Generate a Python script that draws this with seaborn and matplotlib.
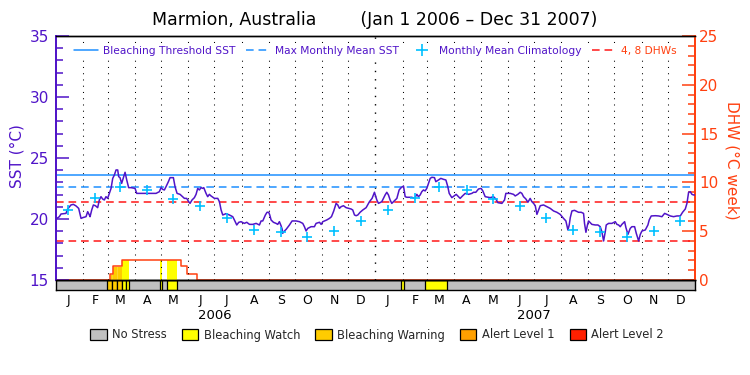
import numpy as np
import pandas as pd
import matplotlib
matplotlib.use("Agg")
import matplotlib.pyplot as plt
import matplotlib.transforms as mtransforms
from matplotlib.lines import Line2D
from matplotlib.patches import Patch
import seaborn as sns

# ---------------- data ----------------
title = "Marmion, Australia        (Jan 1 2006 \u2013 Dec 31 2007)"
start_date = "2006-01-01"
end_date = "2008-01-01"

# days since 2006-01-01 and SST (deg C)
sst_day = [0, 3.8, 5.7, 11.4, 13.3, 17.1, 19.8, 22.9, 25.9, 28.6, 30.5, 34.3, 36.2, 38.1, 38.9,
           40.8, 42.7, 45.0, 47.6, 49.5, 51.4, 53.3, 55.2, 57.1, 59.0, 61.0, 62.9, 64.8, 66.7,
           68.6, 70.5, 71.6, 73.1, 75.0, 77.3, 78.9, 80.8, 83.0, 85.7, 90.3, 92.2, 101.0, 114.3,
           118.1, 120.0, 121.9, 123.8, 125.7, 128.4, 130.3, 134.1, 136.0, 138.3, 141.7, 146.7,
           149.3, 151.6, 153.1, 155.4, 158.1, 160.0, 161.9, 163.8, 165.7, 167.6, 168.8, 171.4,
           173.3, 175.2, 177.1, 181.0, 184.8, 186.7, 188.6, 190.5, 194.3, 198.1, 201.9, 203.8,
           206.5, 208.8, 211.4, 215.2, 217.9, 221.0, 224.8, 228.6, 232.4, 234.3, 236.2, 239.2,
           241.1, 243.0, 244.2, 245.7, 248.4, 251.4, 253.3, 255.2, 257.1, 258.3, 259.0, 261.0,
           262.9, 266.7, 269.7, 274.3, 278.1, 281.9, 283.8, 285.7, 287.6, 291.4, 295.2, 297.1,
           301.0, 302.9, 304.8, 306.7, 309.3, 312.4, 314.7, 317.3, 320.0, 321.9, 323.8, 325.7,
           328.4, 331.4, 337.1, 339.0, 341.0, 342.9, 344.8, 347.4, 350.5, 354.3, 358.1, 361.1,
           363.8,
           366.5, 368.4, 372.2, 374.1, 376.0, 377.9, 379.8, 381.7, 383.6, 385.6, 387.5, 389.4,
           390.5, 392.0, 394.3, 397.0, 398.9, 400.8, 406.5, 409.6, 412.2, 414.1, 416.0, 417.9,
           419.8, 421.7, 423.6, 425.6, 427.5, 429.4, 432.4, 433.9, 437.0, 439.6, 442.7, 445.4,
           447.6, 449.2, 452.2, 454.9, 457.2, 459.8, 461.7, 464.4, 467.5, 471.3, 475.1, 477.0,
           479.6, 482.7, 485.7, 487.6, 490.3, 496.0, 499.8, 502.5, 504.8, 509.4, 512.4, 513.9,
           518.9, 522.7, 524.6, 527.6, 530.3, 532.2, 534.1, 536.8, 539.1, 540.6, 541.7, 543.6,
           545.6, 547.5, 549.4, 551.3, 553.2, 557.0, 560.8, 564.6, 568.4, 572.2, 576.0, 579.8,
           582.5, 584.8, 586.3, 587.5, 589.4, 592.4, 597.0, 600.0, 602.7, 603.8, 605.4, 607.3,
           608.4, 612.2, 616.0, 619.1, 621.7, 623.6, 625.6, 627.5, 628.6, 631.3, 635.1, 638.9,
           640.8, 642.7, 644.6, 646.5, 649.6, 651.1, 653.4, 656.0, 657.9, 661.0, 662.9, 665.6,
           667.5, 669.4, 673.2, 676.2, 677.7, 680.0, 684.6, 688.4, 692.2, 695.3, 697.9, 701.7,
           705.5, 709.4, 713.2, 715.8, 718.9, 720.8, 722.7, 724.6, 726.5, 728.4, 730.0]
sst_val = [20.0, 20.19, 20.41, 20.46, 20.82, 21.15, 21.2, 21.07, 20.87, 20.05, 20.11, 20.19, 20.6,
           20.33, 20.19, 20.74, 21.15, 21.09, 20.93, 21.56, 21.83, 21.64, 21.56, 21.83, 21.69,
           22.1, 22.51, 23.33, 23.61, 24.02, 24.02, 23.47, 23.39, 22.92, 23.47, 23.83, 23.2,
           22.57, 22.57, 22.51, 22.1, 22.1, 22.1, 22.24, 22.57, 22.43, 22.38, 22.65, 23.06, 23.39,
           23.39, 22.65, 22.1, 22.02, 21.69, 21.69, 21.42, 21.28, 21.56, 21.75, 22.02, 22.51,
           22.38, 22.57, 22.51, 22.57, 22.1, 21.83, 22.02, 21.89, 21.69, 21.69, 21.42, 20.74,
           20.33, 20.44, 20.33, 20.19, 19.92, 19.51, 19.73, 19.78, 19.64, 19.73, 19.56, 19.56,
           19.64, 19.51, 19.84, 19.84, 20.33, 20.55, 20.55, 20.33, 19.92, 19.73, 19.64, 19.56,
           19.78, 19.45, 19.18, 18.83, 19.02, 19.15, 19.51, 19.84, 19.84, 19.78, 19.64, 19.37,
           19.02, 19.23, 19.37, 19.37, 19.64, 19.73, 19.56, 19.78, 19.84, 19.92, 20.05, 20.19,
           20.66, 21.28, 21.15, 20.87, 21.01, 21.09, 20.93, 20.82, 20.74, 20.33, 20.27, 20.33,
           20.55, 20.74, 20.93, 21.42, 21.69, 22.19,
           21.56, 21.28, 21.42, 21.69, 21.97, 22.19, 21.97, 21.56, 21.28, 21.42, 21.56, 21.69,
           21.97, 22.38, 22.57, 22.7, 21.83, 21.78, 21.78, 21.69, 22.02, 21.83, 21.97, 22.24,
           22.38, 22.3, 22.51, 22.92, 23.33, 23.42, 23.39, 23.06, 23.2, 23.33, 23.25, 23.2,
           22.65, 22.1, 21.75, 21.89, 22.02, 21.83, 21.69, 21.89, 22.1, 22.02, 22.1, 22.19,
           22.19, 22.46, 22.51, 22.3, 21.83, 21.75, 21.83, 21.64, 21.34, 21.28, 21.56, 22.1,
           22.1, 22.02, 21.89, 22.02, 22.19, 22.1, 21.83, 21.64, 21.37, 21.56, 21.69, 21.42,
           21.28, 21.09, 20.38, 20.74, 21.09, 21.15, 21.01, 20.87, 20.66, 20.55, 20.38, 20.05,
           19.84, 19.1, 19.51, 20.11, 20.66, 20.71, 20.55, 20.55, 20.46, 19.64, 18.91, 19.56,
           19.84, 19.56, 19.51, 19.51, 19.37, 18.96, 18.2, 18.96, 19.51, 19.64, 19.64, 19.78,
           19.56, 19.51, 19.37, 19.56, 19.78, 19.29, 18.74, 19.23, 19.37, 19.37, 18.83, 18.2,
           18.74, 19.02, 19.1, 19.51, 19.92, 20.25, 20.27, 20.25, 20.19, 20.46, 20.38, 20.25,
           20.19, 20.25, 20.25, 20.55, 20.82, 21.28, 22.19, 22.24, 22.02, 21.97, 21.97]

clim_month = list(range(1, 13))
clim_sst = [20.75, 21.75, 22.6, 22.4, 21.6, 21.1, 20.05, 19.1, 18.9, 18.5, 19.0, 19.85]
mmm_sst = 22.6
threshold_sst = 23.6
dhw_levels = [4, 8]

dhw_day = [0, 61.7, 64.8, 75.8, 142.9, 150.0, 160.8, 730]
dhw_val = [0, 0.6, 1.4, 2.05, 1.4, 0.6, 0, 0]

stress_start = [58.6, 64.3, 70.1, 75.8, 79.7, 118.9, 127.2, 394.3, 422.1]
stress_end = [64.3, 70.1, 75.8, 79.7, 83.8, 121.1, 138.6, 398.1, 447.2]
stress_level = ["Bleaching Warning"] * 3 + ["Bleaching Watch"] * 6

stress_names = ["No Stress", "Bleaching Watch", "Bleaching Warning", "Alert Level 1", "Alert Level 2"]
stress_colors = ["#C0C0C0", "#FFFF00", "#FFCC00", "#FFA000", "#FF2000"]

month_letters = list("JFMAMJJASOND")
years = [2006, 2007]

# ---------------- styling ----------------
sns.set_theme(style="white")
plt.rcParams["font.family"] = ["DejaVu Sans"]
PURPLE = "#5014C8"
ORANGE = "#FF4010"
BLUE = "#1E90FF"
CYAN = "#00C0FF"
RED = "#FF1818"

t0 = pd.Timestamp(start_date)
t1 = pd.Timestamp(end_date)


def to_date(d):
    return t0 + pd.to_timedelta(np.asarray(d, dtype=float), unit="D")


sst_df = pd.DataFrame({"date": to_date(sst_day), "sst": sst_val})
clim_df = pd.DataFrame({"date": [pd.Timestamp(y, m, 15) for y in years for m in clim_month],
                        "sst": clim_sst * len(years)})
color_of = dict(zip(stress_names, stress_colors))

fig = plt.figure(figsize=(7.5, 3.75), dpi=100)
L, R = 56 / 750, 695 / 750
ax = fig.add_axes([L, 1 - 280 / 375, R - L, (280 - 36) / 375])
axb = fig.add_axes([L, 1 - 290 / 375, R - L, 10 / 375])
ax2 = ax.twinx()
ax.set_zorder(ax2.get_zorder() + 1)
ax.patch.set_visible(False)
ax2.patch.set_facecolor("white")

# ---- DHW axis (behind) ----
grid = np.arange(0, 730.001, 0.1)
idx = np.searchsorted(np.asarray(dhw_day), grid, side="right") - 1
dhw_grid = np.asarray(dhw_val)[idx]
for s, e, lev in zip(stress_start, stress_end, stress_level):
    mask = (grid >= s) & (grid <= e)
    ax2.fill_between(to_date(grid), 0, dhw_grid, where=mask, color=color_of[lev], lw=0)
ax2.plot(to_date(dhw_day), dhw_val, drawstyle="steps-post", color=ORANGE, lw=1.1)
for lv in dhw_levels:
    ax2.axhline(lv, color=RED, lw=1.1, dashes=(5, 3.2))
ax2.set_ylim(0, 25)
ax2.set_yticks(range(0, 26, 5))
ax2.set_yticks(range(0, 26, 1), minor=True)
ax2.tick_params(axis="y", which="major", direction="in", length=9.5, width=1.1,
                color=ORANGE, labelcolor=ORANGE, labelsize=11, pad=3)
ax2.tick_params(axis="y", which="minor", direction="in", length=5, width=1.1, color=ORANGE)

# ---- SST axis (front) ----
for m in pd.date_range(start_date, end_date, freq="MS")[1:-1]:
    ax.axvline(m, color="black", lw=1.0 if m.month == 1 else 0.75,
               linestyle=(0, (1, 5)), zorder=1)
ax.axhline(threshold_sst, color=BLUE, lw=1.1, zorder=2)
ax.axhline(mmm_sst, color=BLUE, lw=1.1, dashes=(5, 3.2), zorder=2)
sns.lineplot(data=sst_df, x="date", y="sst", ax=ax, color=PURPLE, lw=1.1,
             estimator=None, sort=False, zorder=4)
sns.scatterplot(data=clim_df, x="date", y="sst", ax=ax, marker="+", s=55,
                color=CYAN, linewidth=1.2, zorder=5)
ax.set_ylim(15, 35)
ax.set_xlim(t0, t1)
ax.set_yticks(range(15, 36, 5))
ax.set_yticks(range(15, 36, 1), minor=True)
ax.tick_params(axis="y", which="major", direction="in", length=9.5, width=1.1,
               color=PURPLE, labelcolor=PURPLE, labelsize=11, pad=5)
ax.tick_params(axis="y", which="minor", direction="in", length=5, width=1.1, color=PURPLE)
ax.set_xticks([])
ax.set_xlabel("")
ax.set_ylabel("")
ax2.set_ylabel("")
for a in (ax, ax2):
    a.spines["left"].set_color(PURPLE)
    a.spines["left"].set_linewidth(1.3)
    a.spines["right"].set_color(ORANGE)
    a.spines["right"].set_linewidth(1.3)
    a.spines["top"].set_color("black")
    a.spines["bottom"].set_color("black")
    a.spines["top"].set_linewidth(1.0)
    a.spines["bottom"].set_linewidth(1.0)
ax2.set_xlim(t0, t1)

handles = [Line2D([], [], color=BLUE, lw=1.1),
           Line2D([], [], color=BLUE, lw=1.1, dashes=(5, 3.2)),
           Line2D([], [], color=CYAN, marker="+", ls="none", markersize=8, mew=1.2),
           Line2D([], [], color=RED, lw=1.1, dashes=(5, 3.2))]
labels = ["Bleaching Threshold SST", "Max Monthly Mean SST", "Monthly Mean Climatology", "4, 8 DHWs"]
leg = ax.legend(handles, labels, loc="center", bbox_to_anchor=(0.5, 0.94), ncol=4,
                frameon=True, facecolor="white", edgecolor="none", framealpha=1,
                fancybox=False, borderpad=0.2,
                fontsize=7.7, handlelength=2.2, columnspacing=1.0, handletextpad=0.5,
                labelcolor=[PURPLE, PURPLE, PURPLE, ORANGE])
leg.set_zorder(10)

# ---- stress bar ----
axb.set_facecolor(stress_colors[0])
for s, e, lev in zip(stress_start, stress_end, stress_level):
    axb.axvspan(to_date([s])[0], to_date([e])[0], facecolor=color_of[lev],
                edgecolor="black", lw=0.9)
axb.set_xlim(t0, t1)
axb.set_ylim(0, 1)
axb.set_yticks([])
mids = pd.date_range(start_date, periods=24, freq="MS") + pd.Timedelta(days=14)
axb.set_xticks(mids)
axb.set_xticklabels(month_letters * 2)
axb.tick_params(axis="x", length=0, labelsize=9, pad=3, labelcolor="black")
for sp in axb.spines.values():
    sp.set_color("black")
    sp.set_linewidth(1.0)
trans = mtransforms.blended_transform_factory(axb.transData, axb.transAxes)
for y in years:
    axb.text(pd.Timestamp(y, 7, 1), -2.5, str(y), transform=trans, ha="center",
             va="center", fontsize=9.5, color="black")

# ---- titles / labels ----
fig.text(0.5, 1 - 20 / 375, title, ha="center", va="center", fontsize=12.5, color="black")
fig.text(17 / 750, 1 - 156 / 375, "SST (\u00b0C)", rotation=90, ha="center", va="center",
         fontsize=11, color=PURPLE)
fig.text(732 / 750, 1 - 160 / 375, "DHW (\u00b0C week)", rotation=270, ha="center",
         va="center", fontsize=11, color=ORANGE)

patches = [Patch(facecolor=c, edgecolor="black", lw=0.9) for c in stress_colors]
fig.legend(patches, stress_names, loc="center", bbox_to_anchor=(0.503, 1 - 335 / 375),
           ncol=5, frameon=False, fontsize=8.3, handlelength=1.4, handleheight=1.1,
           handletextpad=0.5, columnspacing=1.3)

fig.savefig("out.png", dpi=100)
